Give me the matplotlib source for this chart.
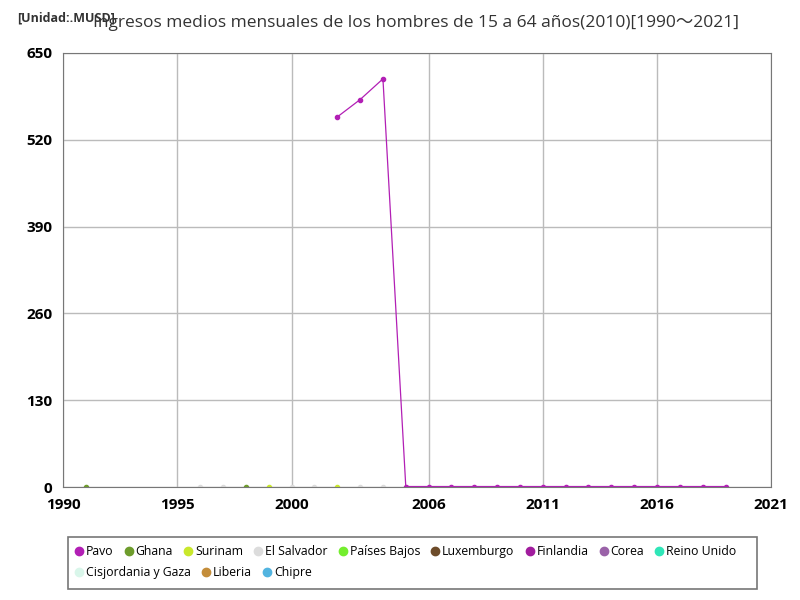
import numpy as np
import matplotlib.pyplot as plt
from matplotlib.lines import Line2D
from matplotlib.patches import Rectangle

plt.rcParams['font.family'] = ['Open Sans', 'Noto Sans CJK JP', 'DejaVu Sans']

# Data (USD)
pavo_years = [2002, 2003, 2004, 2005, 2006, 2007, 2008, 2009, 2010, 2011, 2012,
              2013, 2014, 2015, 2016, 2017, 2018, 2019]
pavo_vals = [554, 580, 611, 1, 1, 1, 1, 1, 1, 1, 1, 1, 1, 1, 1, 1, 1, 1]
ghana_years = [1991, 1998]
ghana_vals = [1, 1]
surinam_years = [1999, 2002]
surinam_vals = [1, 1]
salvador_years = [1996, 1997, 2000, 2001, 2003, 2004]
salvador_vals = [0.5, 0.5, 0.5, 0.5, 0.5, 0.5]

series_names = ['Pavo', 'Ghana', 'Surinam', 'El Salvador', 'Países Bajos', 'Luxemburgo',
                'Finlandia', 'Corea', 'Reino Unido', 'Cisjordania y Gaza', 'Liberia', 'Chipre']
series_colors = ['#b21fb5', '#6e9c2c', '#c9e82c', '#dcdcdc', '#74ee2e', '#6d4c2a',
                 '#a11c9e', '#9a62a8', '#2fe6b8', '#d9f6ea', '#c48d3a', '#52b4e0']

fig = plt.figure(figsize=(8, 6), dpi=100)
ax = fig.add_axes([0.079, 0.188, 0.885, 0.724])

ax.plot(salvador_years, salvador_vals, '-o', color=series_colors[3], lw=0.8, ms=3)
ax.plot(ghana_years, ghana_vals, 'o', color=series_colors[1], ms=3)
ax.plot(surinam_years, surinam_vals, 'o', color=series_colors[2], ms=3)
ax.plot(pavo_years, pavo_vals, '-o', color=series_colors[0], lw=0.9, ms=3)

ax.set_xlim(1990, 2021)
ax.set_ylim(0, 650)
ax.set_xticks([1990, 1995, 2000, 2006, 2011, 2016, 2021])
ax.set_yticks([0, 130, 260, 390, 520, 650])
ax.grid(True, color='#bbbbbb', lw=1)
ax.set_axisbelow(True)
for s in ax.spines.values():
    s.set_color('#777777')
ax.tick_params(length=0, labelsize=11, pad=8)
for lbl in ax.get_xticklabels() + ax.get_yticklabels():
    lbl.set_fontweight('bold')

fig.text(0.52, 0.962, 'Ingresos medios mensuales de los hombres de 15 a 64 años(2010)[1990～2021]',
         ha='center', va='center', fontsize=12.5, color='#333333')
fig.text(0.022, 0.97, '[Unidad:.MUSD]', ha='left', va='center', fontsize=9,
         fontweight='bold', color='#333333')

# legend: frame drawn by hand, two rows as separate legends
fig.add_artist(Rectangle((0.085, 0.018), 0.861, 0.087, transform=fig.transFigure,
                         fill=False, edgecolor='#777777', lw=1.2))
handles = [Line2D([], [], marker='o', ls='none', color=c, ms=6) for c in series_colors]
leg_kw = dict(frameon=False, fontsize=8.8, handletextpad=0.15, columnspacing=0.85,
              handlelength=0.8, borderpad=0, borderaxespad=0)
leg1 = fig.legend(handles[:9], series_names[:9], loc='center left',
                  bbox_to_anchor=(0.093, 0.081), ncol=9, **leg_kw)
leg2 = fig.legend(handles[9:], series_names[9:], loc='center left',
                  bbox_to_anchor=(0.093, 0.046), ncol=3, **leg_kw)

fig.savefig('out.png', dpi=100)
